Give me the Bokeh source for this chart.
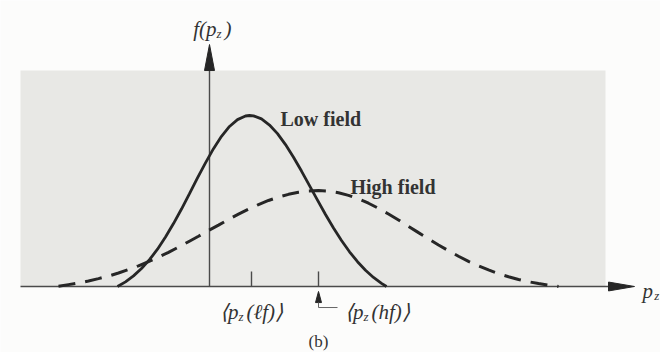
from bokeh.plotting import figure
from bokeh.models import Range1d
from bokeh.core.properties import value
from bokeh.embed import file_html
from bokeh.resources import INLINE

# Momentum distributions f(p_z): low field (solid) and high field (dashed)
low_p = [-2.3, -2.1, -1.9, -1.7, -1.5, -1.3, -1.1, -0.9, -0.7, -0.5, -0.3, -0.1,
         0.1, 0.3, 0.5, 0.7, 0.9, 1.0, 1.1, 1.3, 1.5, 1.7, 1.9, 2.1, 2.3, 2.5,
         2.7, 2.9, 3.1, 3.3, 3.5, 3.7, 3.9, 4.1, 4.3, 4.425]
low_f = [0.0, 0.027, 0.062, 0.105, 0.157, 0.218, 0.289, 0.368, 0.453, 0.543, 0.635, 0.723,
         0.806, 0.878, 0.936, 0.976, 0.997, 1.0, 0.998, 0.980, 0.944, 0.894, 0.830, 0.756,
         0.675, 0.590, 0.505, 0.421, 0.342, 0.269, 0.203, 0.145, 0.095, 0.053, 0.018, 0.0]

high_p = [-3.775, -3.525, -3.275, -3.025, -2.775, -2.525, -2.275, -2.025, -1.775, -1.525,
          -1.275, -1.025, -0.775, -0.525, -0.275, -0.025, 0.225, 0.475, 0.725, 0.975,
          1.225, 1.475, 1.725, 1.975, 2.225, 2.475, 2.725, 2.975, 3.225, 3.475, 3.725,
          3.975, 4.225, 4.475, 4.725, 4.975, 5.225, 5.475, 5.725, 5.975, 6.225, 6.475,
          6.725, 6.975, 7.225, 7.475, 7.725, 7.975, 8.225, 8.475, 8.725]
high_f = [0.002, 0.011, 0.020, 0.032, 0.046, 0.061, 0.079, 0.099, 0.121, 0.146,
          0.172, 0.200, 0.230, 0.262, 0.294, 0.327, 0.359, 0.392, 0.423, 0.452,
          0.479, 0.503, 0.523, 0.539, 0.551, 0.559, 0.561, 0.558, 0.548, 0.533, 0.512,
          0.487, 0.457, 0.424, 0.389, 0.352, 0.315, 0.279, 0.243, 0.209, 0.177, 0.147,
          0.121, 0.097, 0.075, 0.057, 0.041, 0.028, 0.017, 0.008, 0.0]

# mean momenta marked on the p_z axis
mean_low = 1.05
mean_high = 2.725

SERIF = value("Liberation Serif")
INK = "#262626"
AXIS = "#4a4a4a"
TXT = "#333333"

p = figure(width=660, height=352, output_backend="svg", toolbar_location=None,
           x_range=Range1d(-5.225, 11.275), y_range=Range1d(-0.386, 1.6725),
           min_border=0)
p.xaxis.visible = False
p.yaxis.visible = False
p.grid.visible = False
p.outline_line_color = None
p.background_fill_color = "#fcfcfb"
p.border_fill_color = "#fcfcfb"

# shaded panel behind the curves
p.quad(left=[-4.725], right=[9.9], bottom=[0.0], top=[1.263],
       fill_color="#e8e8e5", line_color=None)

# p_z axis with arrow
p.line([-4.725, 10.0], [0, 0], line_color=AXIS, line_width=1.4)
p.patch([9.975, 10.625, 9.975], [0.026, 0.0, -0.026], fill_color=INK, line_color=INK)

# f(p_z) axis with arrow
p.line([0, 0], [0, 1.28], line_color=AXIS, line_width=1.4)
p.patch([-0.125, 0.0, 0.125], [1.263, 1.415, 1.263], fill_color=INK, line_color=INK)

# curves
p.line(low_p, low_f, line_color=INK, line_width=2.8)
p.line(high_p, high_f, line_color=INK, line_width=3.0, line_dash="17 10", line_cap="butt")

# tick marks for the mean values
for m in (mean_low, mean_high):
    p.line([m, m], [0, 0.088], line_color=AXIS, line_width=1.4)

# pointer from the high-field tick to its label
p.patch([mean_high - 0.075, mean_high, mean_high + 0.075], [-0.094, -0.029, -0.094],
        fill_color=INK, line_color=INK)
p.line([mean_high, mean_high, 3.2], [-0.094, -0.123, -0.123], line_color="#666666", line_width=1.0)

# curve labels
p.text(x=[1.775], y=[0.982], text=["Low field"], text_font=SERIF, text_font_size="20px",
       text_font_style="bold", text_color=TXT, text_baseline="alphabetic")
p.text(x=[3.525], y=[0.579], text=["High field"], text_font=SERIF, text_font_size="20px",
       text_font_style="bold", text_color=TXT, text_baseline="alphabetic")


def sub_label(x_join, y_base, head, tail, size=20, sub_size=13, gap=0.2):
    """Draw head + subscript z + tail, joined at x_join."""
    p.text(x=[x_join], y=[y_base], text=[head], text_font=SERIF, text_font_size=f"{size}px",
           text_font_style="italic", text_color=TXT, text_align="right",
           text_baseline="alphabetic")
    p.text(x=[x_join], y=[y_base - 0.025], text=["z"], text_font=SERIF,
           text_font_size=f"{sub_size}px", text_font_style="italic", text_color=TXT,
           text_align="left", text_baseline="alphabetic")
    p.text(x=[x_join + gap], y=[y_base], text=[tail], text_font=SERIF,
           text_font_size=f"{size}px", text_font_style="italic", text_color=TXT,
           text_align="left", text_baseline="alphabetic")


# axis labels
sub_label(0.175, 1.503, "f(p", ")", size=21, sub_size=13, gap=0.2)
sub_label(0.725, -0.152, "\u27e8p", "(\u2113f)\u27e9", size=21, sub_size=13, gap=0.2)
sub_label(3.85, -0.152, "\u27e8p", "(hf)\u27e9", size=21, sub_size=13, gap=0.2)

p.text(x=[10.825], y=[-0.029], text=["p"], text_font=SERIF, text_font_size="21px",
       text_font_style="italic", text_color=TXT, text_baseline="alphabetic")
p.text(x=[11.12], y=[-0.055], text=["z"], text_font=SERIF, text_font_size="13px",
       text_font_style="italic", text_color=TXT, text_baseline="alphabetic")

# panel caption
p.text(x=[mean_high], y=[-0.322], text=["(b)"], text_font=SERIF, text_font_size="17px",
       text_color=TXT, text_align="center", text_baseline="alphabetic")

open("out.html", "w").write(file_html(p, INLINE))
